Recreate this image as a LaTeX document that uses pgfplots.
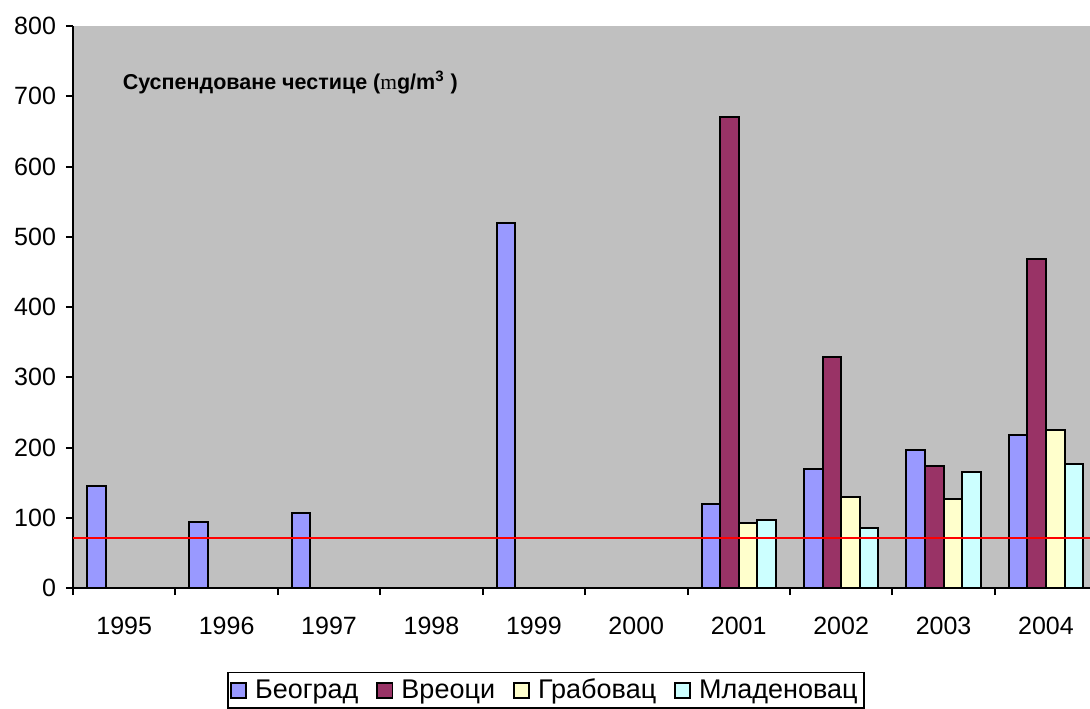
\documentclass[border=0pt]{standalone}
\usepackage{fontspec}
\setmainfont{Liberation Sans}
\newfontfamily\symfont{Liberation Serif}
\usepackage{pgfplots}
\pgfplotsset{compat=1.18}
\definecolor{cBeo}{HTML}{9999FF}
\definecolor{cVre}{HTML}{993366}
\definecolor{cGra}{HTML}{FFFFCC}
\definecolor{cMla}{HTML}{CCFFFF}
\definecolor{cBg}{HTML}{C0C0C0}
\begin{document}
\begin{tikzpicture}
\useasboundingbox (-36.5pt,-60pt) rectangle (508.5pt,294pt);
\begin{axis}[
    scale only axis,
    width=508.5pt, height=281pt,
    at={(0,0)}, anchor=south west,
    ybar=0pt, bar width=9.3pt,
    xmin=-0.5, xmax=9.43,
    ymin=0, ymax=800,
    axis background/.style={fill=cBg},
    axis x line=bottom, axis y line=left,
    axis line style={-, line width=1pt},
    tick align=outside, major tick length=3.5pt,
    tick style={black, line width=1pt},
    xtick={-0.5,0.5,...,8.5}, xticklabels={},
    extra x ticks={0,1,2,3,4,5,6,7,8,9},
    extra x tick labels={1995,1996,1997,1998,1999,2000,2001,2002,2003,2004},
    extra x tick style={major tick length=0pt, xticklabel style={yshift=-11pt}},
    ytick={0,100,...,800},
    yticklabel style={xshift=-1.5pt},
    ticklabel style={font=\fontsize{12.5}{14}\selectfont},
    /pgf/number format/assume math mode=true,
    legend columns=4,
    legend style={at={(0.465,-0.149)}, anchor=north, draw=black, line width=0.8pt,
        font=\fontsize{13.5}{15}\selectfont, inner sep=1.2pt,
        /tikz/every odd column/.append style={column sep=2pt},
        /tikz/every even column/.append style={column sep=7pt}},
    legend image code/.code={\draw[#1, line width=0.9pt] (0pt,-3.8pt) rectangle (7.6pt,3.8pt);},
    every axis plot/.append style={draw=black, line width=1pt},
]
\addplot[fill=cBeo] coordinates {(0,145) (1,94) (2,107) (4,520) (6,120) (7,169) (8,196) (9,218)};
\addplot[fill=cVre] coordinates {(6,670) (7,329) (8,174) (9,468)};
\addplot[fill=cGra] coordinates {(6,92) (7,130) (8,126) (9,225)};
\addplot[fill=cMla] coordinates {(6,97) (7,86) (8,165) (9,176)};
\legend{Београд, Вреоци, Грабовац, Младеновац}
\addplot[sharp plot, draw=red, line width=1pt, forget plot] coordinates {(-0.5,71) (9.43,71)};
\node[anchor=west, font=\bfseries\fontsize{10.75}{12}\selectfont] at (rel axis cs:0.042,0.899)
    {Суспендоване честице ({\symfont\mdseries m}g/m\textsuperscript{3} )};
\end{axis}
\end{tikzpicture}
\end{document}
